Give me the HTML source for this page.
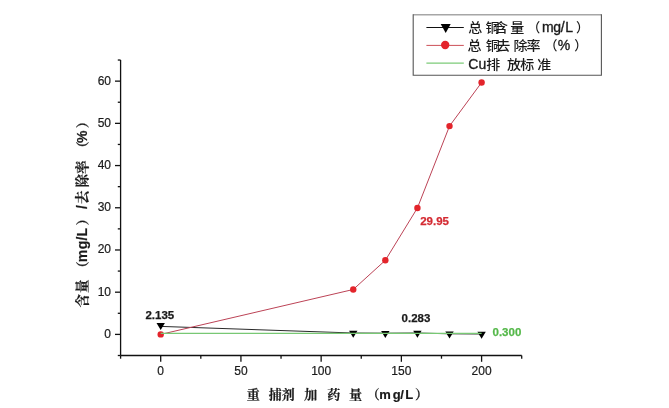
<!DOCTYPE html>
<html><head><meta charset="utf-8"><style>
html,body{margin:0;padding:0;background:#fff;}
svg{display:block;}
</style></head><body>
<svg width="669" height="408" viewBox="0 0 669 408">
<rect width="669" height="408" fill="#fff"/>
<g stroke="#111" stroke-width="1.3" fill="none">
<path d="M120.59 355.50 H521.71 M120.59 355.50 V60.03"/>
<path d="M120.59 355.50 v3.2"/>
<path d="M160.70 355.50 v6.3"/>
<path d="M200.81 355.50 v3.2"/>
<path d="M240.93 355.50 v6.3"/>
<path d="M281.04 355.50 v3.2"/>
<path d="M321.15 355.50 v6.3"/>
<path d="M361.26 355.50 v3.2"/>
<path d="M401.38 355.50 v6.3"/>
<path d="M441.49 355.50 v3.2"/>
<path d="M481.60 355.50 v6.3"/>
<path d="M521.71 355.50 v3.2"/>
<path d="M120.59 355.50 h-2.8"/>
<path d="M120.59 334.40 h-5.6"/>
<path d="M120.59 313.29 h-2.8"/>
<path d="M120.59 292.19 h-5.6"/>
<path d="M120.59 271.08 h-2.8"/>
<path d="M120.59 249.98 h-5.6"/>
<path d="M120.59 228.87 h-2.8"/>
<path d="M120.59 207.77 h-5.6"/>
<path d="M120.59 186.66 h-2.8"/>
<path d="M120.59 165.56 h-5.6"/>
<path d="M120.59 144.45 h-2.8"/>
<path d="M120.59 123.35 h-5.6"/>
<path d="M120.59 102.24 h-2.8"/>
<path d="M120.59 81.14 h-5.6"/>
<path d="M120.59 60.03 h-2.8"/>
</g>
<g font-family="&quot;Liberation Sans&quot;, &quot;Noto Sans CJK SC&quot;, sans-serif" font-size="12" fill="#1a1a1a" stroke="#1a1a1a" stroke-width="0.2">
<text x="160.70" y="375.1" text-anchor="middle">0</text>
<text x="240.93" y="375.1" text-anchor="middle">50</text>
<text x="321.15" y="375.1" text-anchor="middle">100</text>
<text x="401.38" y="375.1" text-anchor="middle">150</text>
<text x="481.60" y="375.1" text-anchor="middle">200</text>
<text x="111" y="337.80" text-anchor="end">0</text>
<text x="111" y="295.59" text-anchor="end">10</text>
<text x="111" y="253.38" text-anchor="end">20</text>
<text x="111" y="211.17" text-anchor="end">30</text>
<text x="111" y="168.96" text-anchor="end">40</text>
<text x="111" y="126.75" text-anchor="end">50</text>
<text x="111" y="84.54" text-anchor="end">60</text>
</g>
<polyline points="160.70,326.40 353.24,333.00 385.33,333.20 417.42,333.00 449.51,333.80 481.60,334.00" fill="none" stroke="#2a2a2a" stroke-width="1"/>
<path d="M156.50 323.10 H164.90 L160.70 330.10 Z" fill="#000"/>
<path d="M349.04 330.70 H357.44 L353.24 337.70 Z" fill="#000"/>
<path d="M381.13 330.90 H389.53 L385.33 337.90 Z" fill="#000"/>
<path d="M413.22 330.70 H421.62 L417.42 337.70 Z" fill="#000"/>
<path d="M445.31 331.50 H453.71 L449.51 338.50 Z" fill="#000"/>
<path d="M477.40 331.70 H485.80 L481.60 338.70 Z" fill="#000"/>
<polyline points="160.70,334.40 353.24,289.49 385.33,260.32 417.42,207.98 449.51,126.09 481.60,82.49" fill="none" stroke="#bc4356" stroke-width="1"/>
<circle cx="160.70" cy="334.40" r="3.2" fill="#e3242b"/>
<circle cx="353.24" cy="289.49" r="3.2" fill="#e3242b"/>
<circle cx="385.33" cy="260.32" r="3.2" fill="#e3242b"/>
<circle cx="417.42" cy="207.98" r="3.2" fill="#e3242b"/>
<circle cx="449.51" cy="126.09" r="3.2" fill="#e3242b"/>
<circle cx="481.60" cy="82.49" r="3.2" fill="#e3242b"/>
<path d="M160.70 333.3 H481.60" stroke="#78c874" stroke-width="1.3"/>
<g font-family="&quot;Liberation Sans&quot;, &quot;Noto Sans CJK SC&quot;, sans-serif" font-size="11.5" font-weight="bold" stroke-width="0.25">
<text x="145.4" y="318.8" fill="#1a1a1a" stroke="#1a1a1a">2.135</text>
<text x="401.6" y="321.9" fill="#1a1a1a" stroke="#1a1a1a">0.283</text>
<text x="492.5" y="336.4" fill="#55b84a" stroke="#55b84a">0.300</text>
<text x="420.2" y="225.1" fill="#d42a32" stroke="#d42a32">29.95</text>
</g>
<rect x="413" y="14.5" width="188.4" height="60.7" fill="#fff"/>
<path d="M413.2 14.8 H601.4" stroke="#a6a6a6" stroke-width="1.4"/>
<path d="M601.4 14.2 V75.2 H413.2 V14.2" fill="none" stroke="#555" stroke-width="1.1"/>
<path d="M426.4 27.5 H463.8" stroke="#111" stroke-width="1"/>
<path d="M440.7 24.1 H450.7 L445.7 33.1 Z" fill="#000"/>
<path d="M426.4 45.4 H463.8" stroke="#cc5058" stroke-width="1"/>
<circle cx="445.2" cy="45" r="4.2" fill="#e3242b"/>
<path d="M426.4 63.2 H463.8" stroke="#7ccb78" stroke-width="1.3"/>
<text transform="translate(468.18,32.2) scale(1.08,1)" font-family="&quot;Liberation Sans&quot;, &quot;Noto Sans CJK SC&quot;, sans-serif" font-size="13" font-weight="500" fill="#1a1a1a">总</text>
<text transform="translate(485.56,32.2) scale(1.08,1)" font-family="&quot;Liberation Sans&quot;, &quot;Noto Sans CJK SC&quot;, sans-serif" font-size="13" font-weight="500" fill="#1a1a1a">铜</text>
<text transform="translate(494.03,32.2) scale(1.08,1)" font-family="&quot;Liberation Sans&quot;, &quot;Noto Sans CJK SC&quot;, sans-serif" font-size="13" font-weight="500" fill="#1a1a1a">含</text>
<text transform="translate(510.28,32.2) scale(1.08,1)" font-family="&quot;Liberation Sans&quot;, &quot;Noto Sans CJK SC&quot;, sans-serif" font-size="13" font-weight="500" fill="#1a1a1a">量</text>
<text x="527.15" y="32.2" font-family="&quot;Liberation Sans&quot;, &quot;Noto Sans CJK SC&quot;, sans-serif" font-size="13" font-weight="500" fill="#1a1a1a">（</text>
<text x="541.98" y="32.2" font-family="&quot;Liberation Sans&quot;, &quot;Noto Sans CJK SC&quot;, sans-serif" font-size="14" font-weight="500" fill="#1a1a1a" stroke="#1a1a1a" stroke-width="0.35">m</text>
<text x="553.23" y="32.2" font-family="&quot;Liberation Sans&quot;, &quot;Noto Sans CJK SC&quot;, sans-serif" font-size="14" font-weight="500" fill="#1a1a1a" stroke="#1a1a1a" stroke-width="0.35">g</text>
<text x="560.77" y="32.2" font-family="&quot;Liberation Sans&quot;, &quot;Noto Sans CJK SC&quot;, sans-serif" font-size="14" font-weight="500" fill="#1a1a1a" stroke="#1a1a1a" stroke-width="0.35">/</text>
<text x="565.20" y="32.2" font-family="&quot;Liberation Sans&quot;, &quot;Noto Sans CJK SC&quot;, sans-serif" font-size="14" font-weight="500" fill="#1a1a1a" stroke="#1a1a1a" stroke-width="0.35">L</text>
<text x="575.95" y="32.2" font-family="&quot;Liberation Sans&quot;, &quot;Noto Sans CJK SC&quot;, sans-serif" font-size="13" font-weight="500" fill="#1a1a1a">）</text>
<text transform="translate(467.53,50.2) scale(1.08,1)" font-family="&quot;Liberation Sans&quot;, &quot;Noto Sans CJK SC&quot;, sans-serif" font-size="13" font-weight="500" fill="#1a1a1a">总</text>
<text transform="translate(485.72,50.2) scale(1.08,1)" font-family="&quot;Liberation Sans&quot;, &quot;Noto Sans CJK SC&quot;, sans-serif" font-size="13" font-weight="500" fill="#1a1a1a">铜</text>
<text transform="translate(496.14,50.2) scale(1.08,1)" font-family="&quot;Liberation Sans&quot;, &quot;Noto Sans CJK SC&quot;, sans-serif" font-size="13" font-weight="500" fill="#1a1a1a">去</text>
<text transform="translate(513.43,50.2) scale(1.08,1)" font-family="&quot;Liberation Sans&quot;, &quot;Noto Sans CJK SC&quot;, sans-serif" font-size="13" font-weight="500" fill="#1a1a1a">除</text>
<text transform="translate(526.55,50.2) scale(1.08,1)" font-family="&quot;Liberation Sans&quot;, &quot;Noto Sans CJK SC&quot;, sans-serif" font-size="13" font-weight="500" fill="#1a1a1a">率</text>
<text x="544.50" y="50.2" font-family="&quot;Liberation Sans&quot;, &quot;Noto Sans CJK SC&quot;, sans-serif" font-size="13" font-weight="500" fill="#1a1a1a">（</text>
<text x="557.85" y="50.2" font-family="&quot;Liberation Sans&quot;, &quot;Noto Sans CJK SC&quot;, sans-serif" font-size="14" font-weight="500" fill="#1a1a1a" stroke="#1a1a1a" stroke-width="0.35">%</text>
<text x="574.20" y="50.2" font-family="&quot;Liberation Sans&quot;, &quot;Noto Sans CJK SC&quot;, sans-serif" font-size="13" font-weight="500" fill="#1a1a1a">）</text>
<text x="468.27" y="68.5" font-family="&quot;Liberation Sans&quot;, &quot;Noto Sans CJK SC&quot;, sans-serif" font-size="14" font-weight="500" fill="#1a1a1a" stroke="#1a1a1a" stroke-width="0.35">C</text>
<text x="478.43" y="68.5" font-family="&quot;Liberation Sans&quot;, &quot;Noto Sans CJK SC&quot;, sans-serif" font-size="14" font-weight="500" fill="#1a1a1a" stroke="#1a1a1a" stroke-width="0.35">u</text>
<text transform="translate(486.33,68.5) scale(1.08,1)" font-family="&quot;Liberation Sans&quot;, &quot;Noto Sans CJK SC&quot;, sans-serif" font-size="13" font-weight="500" fill="#1a1a1a">排</text>
<text transform="translate(506.91,68.5) scale(1.08,1)" font-family="&quot;Liberation Sans&quot;, &quot;Noto Sans CJK SC&quot;, sans-serif" font-size="13" font-weight="500" fill="#1a1a1a">放</text>
<text transform="translate(520.32,68.5) scale(1.08,1)" font-family="&quot;Liberation Sans&quot;, &quot;Noto Sans CJK SC&quot;, sans-serif" font-size="13" font-weight="500" fill="#1a1a1a">标</text>
<text transform="translate(537.33,68.5) scale(1.08,1)" font-family="&quot;Liberation Sans&quot;, &quot;Noto Sans CJK SC&quot;, sans-serif" font-size="13" font-weight="500" fill="#1a1a1a">准</text>
<text x="246.70" y="399" font-family="&quot;Liberation Sans&quot;, &quot;Noto Serif CJK SC&quot;, serif" font-size="13" font-weight="bold" fill="#1a1a1a" stroke="#1a1a1a" stroke-width="0.2">重</text>
<text x="268.70" y="399" font-family="&quot;Liberation Sans&quot;, &quot;Noto Serif CJK SC&quot;, serif" font-size="13" font-weight="bold" fill="#1a1a1a" stroke="#1a1a1a" stroke-width="0.2">捕</text>
<text x="281.82" y="399" font-family="&quot;Liberation Sans&quot;, &quot;Noto Serif CJK SC&quot;, serif" font-size="13" font-weight="bold" fill="#1a1a1a" stroke="#1a1a1a" stroke-width="0.2">剂</text>
<text x="304.23" y="399" font-family="&quot;Liberation Sans&quot;, &quot;Noto Serif CJK SC&quot;, serif" font-size="13" font-weight="bold" fill="#1a1a1a" stroke="#1a1a1a" stroke-width="0.2">加</text>
<text x="327.30" y="399" font-family="&quot;Liberation Sans&quot;, &quot;Noto Serif CJK SC&quot;, serif" font-size="13" font-weight="bold" fill="#1a1a1a" stroke="#1a1a1a" stroke-width="0.2">药</text>
<text x="349.00" y="399" font-family="&quot;Liberation Sans&quot;, &quot;Noto Serif CJK SC&quot;, serif" font-size="13" font-weight="bold" fill="#1a1a1a" stroke="#1a1a1a" stroke-width="0.2">量</text>
<text x="366.75" y="399" font-family="&quot;Liberation Sans&quot;, &quot;Noto Serif CJK SC&quot;, serif" font-size="13" font-weight="bold" fill="#1a1a1a" stroke="#1a1a1a" stroke-width="0.2">（</text>
<text x="379.30" y="399" font-family="&quot;Liberation Sans&quot;, &quot;Noto Serif CJK SC&quot;, serif" font-size="13" font-weight="bold" fill="#1a1a1a" stroke="#1a1a1a" stroke-width="0.2">m</text>
<text x="392.75" y="399" font-family="&quot;Liberation Sans&quot;, &quot;Noto Serif CJK SC&quot;, serif" font-size="13" font-weight="bold" fill="#1a1a1a" stroke="#1a1a1a" stroke-width="0.2">g</text>
<text x="400.32" y="399" font-family="&quot;Liberation Sans&quot;, &quot;Noto Serif CJK SC&quot;, serif" font-size="13" font-weight="bold" fill="#1a1a1a" stroke="#1a1a1a" stroke-width="0.2">/</text>
<text x="405.32" y="399" font-family="&quot;Liberation Sans&quot;, &quot;Noto Serif CJK SC&quot;, serif" font-size="13" font-weight="bold" fill="#1a1a1a" stroke="#1a1a1a" stroke-width="0.2">L</text>
<text x="414.95" y="399" font-family="&quot;Liberation Sans&quot;, &quot;Noto Serif CJK SC&quot;, serif" font-size="13" font-weight="bold" fill="#1a1a1a" stroke="#1a1a1a" stroke-width="0.2">）</text>
<g transform="translate(87,0) rotate(-90)">
<text x="-307.62" y="0" font-family="&quot;Liberation Sans&quot;, &quot;Noto Serif CJK SC&quot;, serif" font-size="13.5" font-weight="bold" fill="#1a1a1a" stroke="#1a1a1a" stroke-width="0.2">含</text>
<text x="-293.00" y="0" font-family="&quot;Liberation Sans&quot;, &quot;Noto Serif CJK SC&quot;, serif" font-size="13.5" font-weight="bold" fill="#1a1a1a" stroke="#1a1a1a" stroke-width="0.2">量</text>
<text x="-274.73" y="0" font-family="&quot;Liberation Sans&quot;, &quot;Noto Serif CJK SC&quot;, serif" font-size="13.5" font-weight="bold" fill="#1a1a1a" stroke="#1a1a1a" stroke-width="0.2">（</text>
<text x="-262.15" y="0" font-family="&quot;Liberation Sans&quot;, &quot;Noto Serif CJK SC&quot;, serif" font-size="14" font-weight="bold" fill="#1a1a1a" stroke="#1a1a1a" stroke-width="0.2">m</text>
<text x="-249.35" y="0" font-family="&quot;Liberation Sans&quot;, &quot;Noto Serif CJK SC&quot;, serif" font-size="14" font-weight="bold" fill="#1a1a1a" stroke="#1a1a1a" stroke-width="0.2">g</text>
<text x="-240.50" y="0" font-family="&quot;Liberation Sans&quot;, &quot;Noto Serif CJK SC&quot;, serif" font-size="14" font-weight="bold" fill="#1a1a1a" stroke="#1a1a1a" stroke-width="0.2">/</text>
<text x="-236.60" y="0" font-family="&quot;Liberation Sans&quot;, &quot;Noto Serif CJK SC&quot;, serif" font-size="14" font-weight="bold" fill="#1a1a1a" stroke="#1a1a1a" stroke-width="0.2">L</text>
<text x="-225.62" y="0" font-family="&quot;Liberation Sans&quot;, &quot;Noto Serif CJK SC&quot;, serif" font-size="13.5" font-weight="bold" fill="#1a1a1a" stroke="#1a1a1a" stroke-width="0.2">）</text>
<text x="-209.05" y="0" font-family="&quot;Liberation Sans&quot;, &quot;Noto Serif CJK SC&quot;, serif" font-size="14" font-weight="bold" fill="#1a1a1a" stroke="#1a1a1a" stroke-width="0.2">/</text>
<text x="-204.00" y="0" font-family="&quot;Liberation Sans&quot;, &quot;Noto Serif CJK SC&quot;, serif" font-size="13.5" font-weight="bold" fill="#1a1a1a" stroke="#1a1a1a" stroke-width="0.2">去</text>
<text x="-187.57" y="0" font-family="&quot;Liberation Sans&quot;, &quot;Noto Serif CJK SC&quot;, serif" font-size="13.5" font-weight="bold" fill="#1a1a1a" stroke="#1a1a1a" stroke-width="0.2">除</text>
<text x="-173.95" y="0" font-family="&quot;Liberation Sans&quot;, &quot;Noto Serif CJK SC&quot;, serif" font-size="13.5" font-weight="bold" fill="#1a1a1a" stroke="#1a1a1a" stroke-width="0.2">率</text>
<text x="-154.68" y="0" font-family="&quot;Liberation Sans&quot;, &quot;Noto Serif CJK SC&quot;, serif" font-size="13.5" font-weight="bold" fill="#1a1a1a" stroke="#1a1a1a" stroke-width="0.2">（</text>
<text x="-142.93" y="0" font-family="&quot;Liberation Sans&quot;, &quot;Noto Serif CJK SC&quot;, serif" font-size="14" font-weight="bold" fill="#1a1a1a" stroke="#1a1a1a" stroke-width="0.2">%</text>
<text x="-128.32" y="0" font-family="&quot;Liberation Sans&quot;, &quot;Noto Serif CJK SC&quot;, serif" font-size="13.5" font-weight="bold" fill="#1a1a1a" stroke="#1a1a1a" stroke-width="0.2">）</text>
</g>
</svg>
</body></html>
